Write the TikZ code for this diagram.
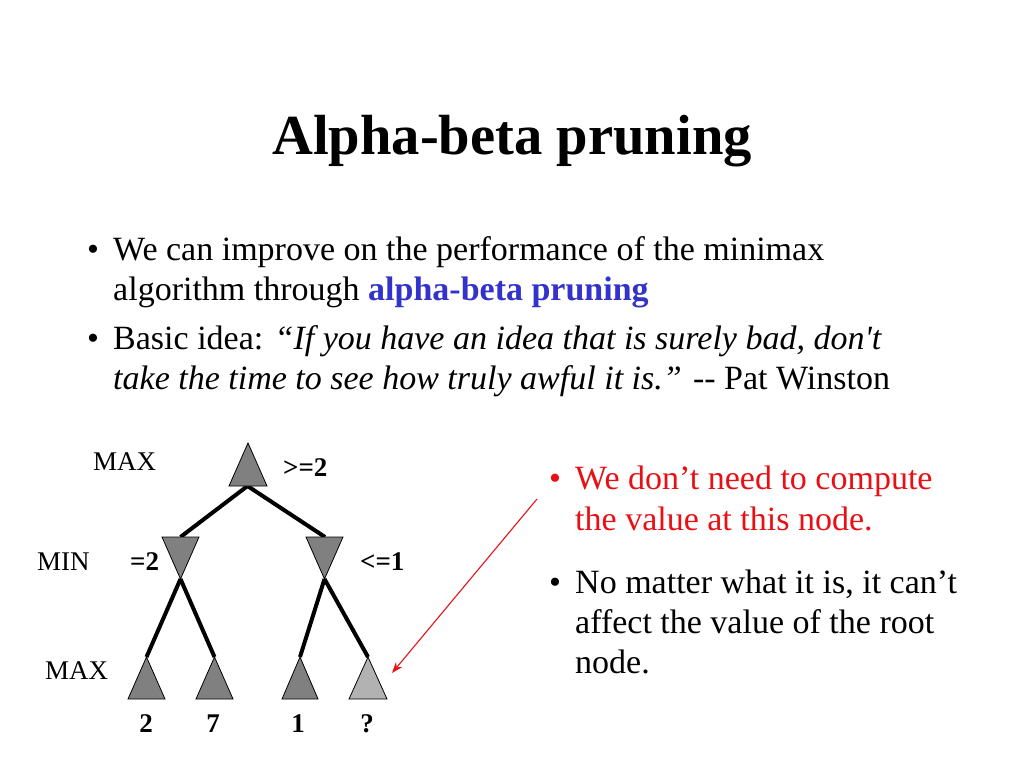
\documentclass[tikz,border=0pt]{standalone}
\usepackage{fontspec}
\defaultfontfeatures[\rmfamily]{}
\setmainfont{Liberation Serif}
\usetikzlibrary{arrows.meta}
\definecolor{trigray}{RGB}{128,128,128}
\definecolor{trilight}{RGB}{178,178,178}
\definecolor{redc}{RGB}{232,16,20}
\definecolor{bluec}{RGB}{51,51,204}
\begin{document}
\begin{tikzpicture}[x=1pt,y=-1pt,
  txt/.style={anchor=base west,inner sep=0pt,font=\fontsize{34}{40}\selectfont},
  lab/.style={anchor=base west,inner sep=0pt,font=\fontsize{27}{30}\selectfont},
  blab/.style={inner sep=0pt,font=\fontsize{27}{30}\selectfont\bfseries},
  edge/.style={line width=4pt,line cap=butt},
  tri/.style={fill=trigray,draw=black,line width=0.8pt,line join=miter},
  tril/.style={tri,fill=trilight}]
\useasboundingbox (0,0) rectangle (1024,768);
\fill[white] (0,0) rectangle (1024,768);
% title
\node[anchor=base,inner sep=0pt,font=\fontsize{56.6}{60}\selectfont\bfseries] (title) at (512,154) {Alpha-beta pruning};
% bullets
\node[txt] (b1) at (87,260) {•};
\node[txt] (l1) at (113,260) {We can improve on the performance of the minimax};
\node[txt] (l2) at (113,300) {algorithm through \textbf{\color{bluec}alpha-beta pruning}};
\node[txt] (b2) at (87,349) {•};
\node[txt] (l3) at (113,349) {Basic idea: \textit{“If you have an idea that is surely bad, don't}};
\node[txt] (l4) at (113,389) {\textit{take the time to see how truly awful it is.”} -{}- Pat Winston};
% right bullets
\node[txt,text=redc] (rb1) at (549,489) {•};
\node[txt,text=redc] (r1) at (575,489) {We don’t need to compute};
\node[txt,text=redc] (r2) at (575,530) {the value at this node.};
\node[txt] (rb2) at (549,593) {•};
\node[txt] (r3) at (575,593) {No matter what it is, it can’t};
\node[txt] (r4) at (575,633) {affect the value of the root};
\node[txt] (r5) at (575,673) {node.};
% tree coordinates
\coordinate (rootb) at (247.5,486);
\coordinate (Lt) at (180.5,537);
\coordinate (Rt) at (325,537);
\coordinate (La) at (180.5,579);
\coordinate (Ra) at (324.5,579);
\coordinate (l1a) at (146.5,657);
\coordinate (l2a) at (214.5,657);
\coordinate (l3a) at (300,657);
\coordinate (l4a) at (368,657);
% edges
\draw[edge] (rootb) -- (Lt);
\draw[edge] (rootb) -- (Rt);
\draw[edge] (La) -- (l1a);
\draw[edge] (La) -- (l2a);
\draw[edge] (Ra) -- (l3a);
\draw[edge] (Ra) -- (l4a);
% triangles
\path[tri] (248,443) -- (267,486) -- (229,486) -- cycle;
\path[tri] (162,537) -- (199,537) -- (La) -- cycle;
\path[tri] (306,537) -- (343,537) -- (Ra) -- cycle;
\path[tri] (l1a) -- (165,699) -- (128,699) -- cycle;
\path[tri] (l2a) -- (233,699) -- (196,699) -- cycle;
\path[tri] (l3a) -- (318,699) -- (282,699) -- cycle;
\path[tril] (l4a) -- (387,699) -- (349,699) -- cycle;
% labels
\node[lab] (max1) at (93,470) {MAX};
\node[blab,anchor=base west] (v1) at (283,476) {>=2};
\node[lab] (min) at (37,570) {MIN};
\node[blab,anchor=base west] (v2) at (130,570) {=2};
\node[blab,anchor=base west] (v3) at (360,570) {<=1};
\node[lab] (max2) at (45,679) {MAX};
\node[blab,anchor=base] (n1) at (146,732) {2};
\node[blab,anchor=base] (n2) at (213,732) {7};
\node[blab,anchor=base] (n3) at (298,732) {1};
\node[blab,anchor=base] (n4) at (367,732) {?};
% red arrow
\coordinate (as) at (537,499);
\coordinate (ae) at (392,673);
\draw[redc,line width=1.1pt,-{Stealth[length=11pt,width=8pt]}] (as) -- (ae);
\end{tikzpicture}
\end{document}
